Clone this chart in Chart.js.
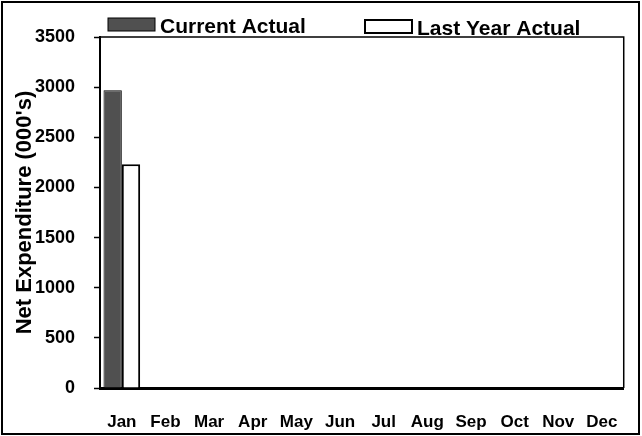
<!DOCTYPE html>
<html>
<head>
<meta charset="utf-8">
<script src="https://cdn.jsdelivr.net/npm/chart.js@4.4.1/dist/chart.umd.min.js"></script>
<style>
  html, body { margin: 0; padding: 0; background: #fff; }
  #wrap { width: 642px; height: 436px; position: relative; }
</style>
</head>
<body>
<div id="wrap"><canvas id="barChartGasto"></canvas></div>
<script>
// datos
var meses = ['Jan', 'Feb', 'Mar', 'Apr', 'May', 'Jun', 'Jul', 'Aug', 'Sep', 'Oct', 'Nov', 'Dec'];
var actualActual = [2970, 0, 0, 0, 0, 0, 0, 0, 0, 0, 0, 0];
var actualAnterior = [2230, 0, 0, 0, 0, 0, 0, 0, 0, 0, 0, 0];
var ticksY = [0, 500, 1000, 1500, 2000, 2500, 3000, 3500];

var fuente = "'Liberation Sans', Arial, sans-serif";

// marco exterior, borde del area y leyenda propia
var marcoPlugin = {
    id: 'marco',
    afterDraw: function (chart) {
        var ctx = chart.ctx;
        var a = chart.chartArea;
        ctx.save();
        ctx.strokeStyle = '#000';
        ctx.lineWidth = 2;
        ctx.strokeRect(2, 2, chart.width - 5, chart.height - 4);
        ctx.lineWidth = 1.5;
        ctx.beginPath();
        ctx.moveTo(a.left, a.top);
        ctx.lineTo(a.right, a.top);
        ctx.lineTo(a.right, a.bottom);
        ctx.stroke();

        // leyenda
        var items = [{ x: 108, y: 18 }, { x: 365, y: 20 }];
        ctx.font = 'bold 21px ' + fuente;
        ctx.textBaseline = 'alphabetic';
        chart.data.datasets.forEach(function (ds, i) {
            var p = items[i];
            ctx.fillStyle = ds.backgroundColor;
            ctx.fillRect(p.x, p.y, 47, 13);
            ctx.lineWidth = ds.borderWidth;
            ctx.strokeStyle = '#000';
            ctx.strokeRect(p.x, p.y, 47, 13);
            ctx.fillStyle = '#000';
            ctx.fillText(ds.label, p.x + 52, p.y + 15);
        });
        ctx.restore();
    }
};

function renderGastoChart() {
    var ctx = document.getElementById('barChartGasto').getContext('2d');
    new Chart(ctx, {
        type: 'bar',
        data: {
            labels: meses,
            datasets: [{
                label: 'Current Actual',
                data: actualActual,
                backgroundColor: '#505050',
                borderColor: '#000',
                borderWidth: 1
            }, {
                label: 'Last Year Actual',
                data: actualAnterior,
                backgroundColor: '#ffffff',
                borderColor: '#000',
                borderWidth: 2
            }]
        },
        options: {
            responsive: true,
            maintainAspectRatio: false,
            animation: false,
            layout: { padding: { left: 4, right: 12, top: 37, bottom: 4 } },
            plugins: {
                legend: { display: false },
                tooltip: { enabled: false }
            },
            datasets: {
                bar: { categoryPercentage: 0.84, barPercentage: 1.0, borderSkipped: 'bottom' }
            },
            scales: {
                x: {
                    afterFit: function (scale) { scale.height = 44; },
                    grid: { drawOnChartArea: false, drawTicks: false, color: 'rgba(0,0,0,0)' },
                    border: { color: '#000', width: 3 },
                    ticks: {
                        color: '#000',
                        padding: 24,
                        font: { family: fuente, size: 17, weight: 'bold' }
                    }
                },
                y: {
                    min: 0,
                    max: 3500,
                    afterBuildTicks: function (scale) {
                        scale.ticks = ticksY.map(function (v) { return { value: v }; });
                    },
                    afterFit: function (scale) { scale.width = 96; },
                    grid: { drawOnChartArea: false, color: '#000', tickLength: 6, tickWidth: 1.5 },
                    border: { color: '#000', width: 2 },
                    ticks: {
                        color: '#000',
                        padding: 19,
                        font: { family: fuente, size: 18, weight: 'bold' },
                        callback: function (v) { return String(v); }
                    },
                    title: {
                        display: true,
                        text: "Net Expenditure (000's)",
                        color: '#000',
                        padding: { top: 8, bottom: 0 },
                        font: { family: fuente, size: 22, weight: 'bold' }
                    }
                }
            }
        },
        plugins: [marcoPlugin]
    });
}

renderGastoChart();
</script>
</body>
</html>
